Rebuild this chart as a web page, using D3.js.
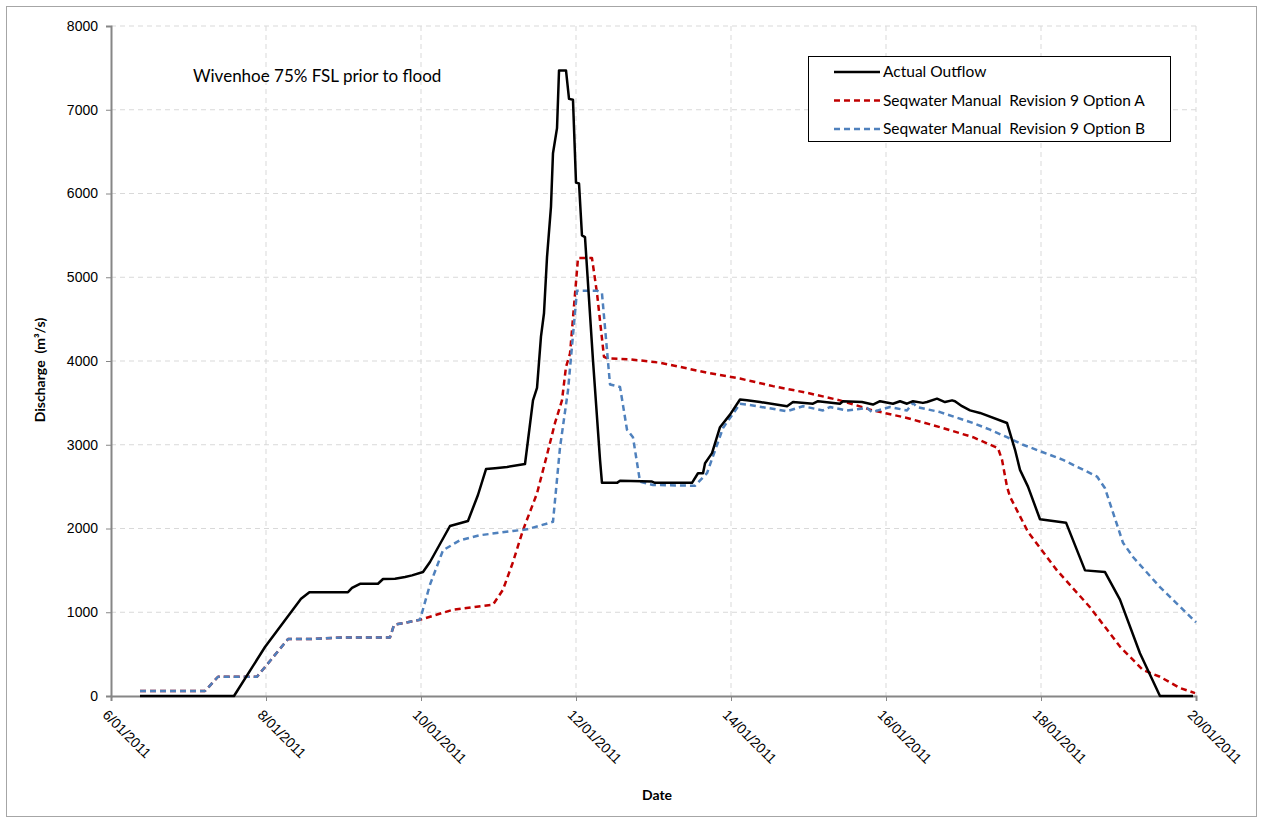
<!DOCTYPE html>
<html>
<head>
<meta charset="utf-8">
<script src="https://cdn.jsdelivr.net/npm/d3@7"></script>
<style>
  body { margin: 0; background: #fff; }
  svg { font-family: Lato, "Liberation Sans", sans-serif; }
  text { white-space: pre; }
</style>
</head>
<body>
<div id="chart"></div>
<script>
// day of January 2011 (fractional) and discharge m3/s
var actualDays = [6.374, 7.587, 7.987, 8.452, 8.560, 9.058, 9.110, 9.213, 9.445, 9.510, 9.665, 9.794, 9.884, 10.026, 10.116, 10.374, 10.606, 10.735, 10.839, 10.955, 11.110, 11.342, 11.381, 11.445, 11.497, 11.548, 11.587, 11.626, 11.677, 11.703, 11.755, 11.781, 11.871, 11.910, 11.961, 12.000, 12.039, 12.077, 12.116, 12.219, 12.310, 12.335, 12.529, 12.568, 12.981, 13.019, 13.497, 13.574, 13.639, 13.665, 13.755, 13.858, 13.987, 14.116, 14.206, 14.374, 14.723, 14.800, 15.058, 15.123, 15.406, 15.445, 15.690, 15.832, 15.923, 16.090, 16.181, 16.271, 16.348, 16.477, 16.529, 16.658, 16.761, 16.852, 16.890, 16.981, 17.084, 17.213, 17.561, 17.665, 17.729, 17.832, 17.987, 18.323, 18.568, 18.826, 19.019, 19.277, 19.535, 19.961];
var actualFlow = [0, 0, 585, 1160, 1240, 1240, 1290, 1340, 1340, 1397, 1400, 1421, 1440, 1480, 1600, 2030, 2090, 2400, 2710, 2720, 2735, 2770, 3057, 3530, 3680, 4290, 4570, 5240, 5840, 6480, 6780, 7470, 7470, 7130, 7120, 6130, 6120, 5500, 5480, 4010, 2820, 2545, 2545, 2570, 2560, 2545, 2545, 2660, 2660, 2780, 2900, 3210, 3360, 3540, 3530, 3510, 3460, 3510, 3490, 3520, 3490, 3520, 3510, 3480, 3520, 3490, 3520, 3490, 3520, 3500, 3510, 3550, 3510, 3530, 3520, 3460, 3410, 3380, 3260, 2940, 2700, 2500, 2110, 2070, 1500, 1480, 1150, 510, 0, 0];

var optADays = [6.374, 7.213, 7.381, 7.884, 8.284, 8.568, 8.994, 9.600, 9.652, 9.987, 10.413, 10.929, 11.058, 11.187, 11.316, 11.497, 11.626, 11.729, 11.819, 11.871, 11.923, 12.026, 12.206, 12.271, 12.361, 12.413, 12.697, 13.084, 13.342, 13.690, 14.116, 14.542, 14.981, 15.406, 15.832, 16.271, 16.697, 17.123, 17.445, 17.497, 17.561, 17.600, 17.832, 18.206, 18.632, 19.019, 19.316, 19.535, 19.794, 19.987];
var optAFlow = [60, 60, 230, 230, 680, 680, 700, 700, 850, 910, 1030, 1090, 1270, 1600, 1980, 2420, 2880, 3260, 3530, 3930, 4090, 5230, 5230, 4810, 4050, 4030, 4020, 3980, 3930, 3860, 3790, 3700, 3620, 3530, 3410, 3320, 3210, 3090, 2960, 2820, 2500, 2380, 1960, 1500, 1060, 590, 310, 230, 95, 35];

var optBDays = [6.374, 7.213, 7.381, 7.884, 8.284, 8.568, 8.994, 9.600, 9.652, 9.987, 10.116, 10.284, 10.503, 10.761, 11.187, 11.368, 11.703, 11.794, 11.897, 12.013, 12.271, 12.335, 12.439, 12.568, 12.658, 12.735, 12.826, 12.994, 13.535, 13.690, 13.897, 14.116, 14.206, 14.723, 14.929, 15.187, 15.277, 15.497, 15.755, 15.819, 16.052, 16.271, 16.348, 16.400, 16.697, 17.123, 17.342, 17.561, 17.768, 18.284, 18.723, 18.826, 19.058, 19.187, 19.535, 20.0];
var optBFlow = [60, 60, 230, 230, 680, 680, 700, 700, 850, 910, 1330, 1740, 1860, 1920, 1970, 1990, 2080, 2970, 3650, 4840, 4840, 4810, 3720, 3690, 3180, 3090, 2560, 2520, 2510, 2660, 3200, 3490, 3480, 3400, 3460, 3410, 3450, 3410, 3440, 3390, 3450, 3410, 3500, 3450, 3390, 3260, 3180, 3090, 3000, 2820, 2620, 2480, 1830, 1660, 1300, 880];

var tickDays = [6, 8, 10, 12, 14, 16, 18, 20];
var yTicks = [0, 1000, 2000, 3000, 4000, 5000, 6000, 7000, 8000];
var seriesNames = ["Actual Outflow", "Seqwater Manual  Revision 9 Option A", "Seqwater Manual  Revision 9 Option B"];
var seriesColors = ["#000000", "#C00000", "#4F81BD"];
var seriesDash = [null, "6,4", "6,4"];

function dayToDate(d) {
    return new Date(new Date(2011, 0, 1).getTime() + (d - 1) * 86400000);
}

var width = 1262, height = 820;
var margin = { left: 111, right: 66, top: 26, bottom: 124 };

var svg = d3.select('#chart')
    .append('svg')
    .attr('width', width)
    .attr('height', height);

// outer frame
svg.append('rect')
    .attr('x', 6.5).attr('y', 6.5)
    .attr('width', 1250).attr('height', 810)
    .attr('fill', 'none')
    .attr('stroke', '#a6a6a6')
    .attr('stroke-width', 1);

var x = d3.scaleTime()
    .domain([dayToDate(6), dayToDate(20)])
    .range([margin.left, width - margin.right]);

var y = d3.scaleLinear()
    .domain([0, 8000])
    .range([height - margin.bottom, margin.top]);

// gridlines
svg.append('g').selectAll('line')
    .data(yTicks.slice(1))
    .enter().append('line')
    .attr('x1', margin.left).attr('x2', width - margin.right)
    .attr('y1', function (d) { return y(d); })
    .attr('y2', function (d) { return y(d); })
    .attr('stroke', '#d9d9d9')
    .attr('stroke-dasharray', '5,4');

svg.append('g').selectAll('line')
    .data(tickDays.slice(1))
    .enter().append('line')
    .attr('x1', function (d) { return x(dayToDate(d)); })
    .attr('x2', function (d) { return x(dayToDate(d)); })
    .attr('y1', margin.top).attr('y2', height - margin.bottom)
    .attr('stroke', '#d9d9d9')
    .attr('stroke-dasharray', '5,4');

// axes
var xAxis = svg.append('g')
    .attr('transform', 'translate(0,' + (height - margin.bottom) + ')')
    .call(d3.axisBottom(x)
        .tickValues(tickDays.map(dayToDate))
        .tickSize(5)
        .tickFormat(function (d) { return d.getDate() + '/01/2011'; }));

xAxis.select('.domain').attr('stroke', '#868686').attr('stroke-width', 2);
xAxis.selectAll('.tick line').attr('stroke', '#868686');
xAxis.selectAll('.tick text')
    .attr('fill', '#000')
    .style('font-size', '14px')
    .attr('text-anchor', 'start')
    .attr('dy', 0)
    .attr('transform', 'translate(-4,14) rotate(45)');

var yAxis = svg.append('g')
    .attr('transform', 'translate(' + margin.left + ',0)')
    .call(d3.axisLeft(y).tickValues(yTicks).tickSize(5).tickFormat(d3.format('d')));

yAxis.select('.domain').attr('stroke', '#868686').attr('stroke-width', 2);
yAxis.selectAll('.tick line').attr('stroke', '#868686');
yAxis.selectAll('.tick text')
    .attr('fill', '#000')
    .style('font-size', '14px')
    .attr('x', -13);

// axis titles
svg.append('text')
    .attr('x', 657).attr('y', 800)
    .attr('text-anchor', 'middle')
    .style('font-size', '14px')
    .style('font-weight', 'bold')
    .text('Date');

svg.append('text')
    .attr('transform', 'translate(45,370) rotate(-90)')
    .attr('text-anchor', 'middle')
    .style('font-size', '14px')
    .style('font-weight', 'bold')
    .text('Discharge  (m\u00B3/s)');

// annotation
svg.append('text')
    .attr('x', 193).attr('y', 82)
    .style('font-size', '17px')
    .text('Wivenhoe 75% FSL prior to flood');

// lines
var line = d3.line()
    .x(function (d) { return x(dayToDate(d[0])); })
    .y(function (d) { return y(d[1]); });

var series = [
    d3.zip(actualDays, actualFlow),
    d3.zip(optADays, optAFlow),
    d3.zip(optBDays, optBFlow)
];

// draw A, then B, then actual on top
[1, 2, 0].forEach(function (i) {
    svg.append('path')
        .datum(series[i])
        .attr('d', line)
        .attr('fill', 'none')
        .attr('stroke', seriesColors[i])
        .attr('stroke-width', 2.5)
        .attr('stroke-linejoin', 'round')
        .attr('stroke-dasharray', seriesDash[i]);
});

// legend
var legend = svg.append('g').attr('transform', 'translate(808,56)');
legend.append('rect')
    .attr('x', 0.5).attr('y', 0.5)
    .attr('width', 362).attr('height', 85)
    .attr('fill', '#fff')
    .attr('stroke', '#000');

var item = legend.selectAll('.item')
    .data(seriesNames)
    .enter().append('g')
    .attr('class', 'item')
    .attr('transform', function (d, i) { return 'translate(0,' + (16 + i * 28.5) + ')'; });

item.append('line')
    .attr('x1', 26).attr('x2', 72)
    .attr('stroke', function (d, i) { return seriesColors[i]; })
    .attr('stroke-width', 2.5)
    .attr('stroke-dasharray', function (d, i) { return seriesDash[i]; });

item.append('text')
    .attr('x', 75).attr('y', 5)
    .style('font-size', '15.5px')
    .text(function (d) { return d; });
</script>
</body>
</html>
